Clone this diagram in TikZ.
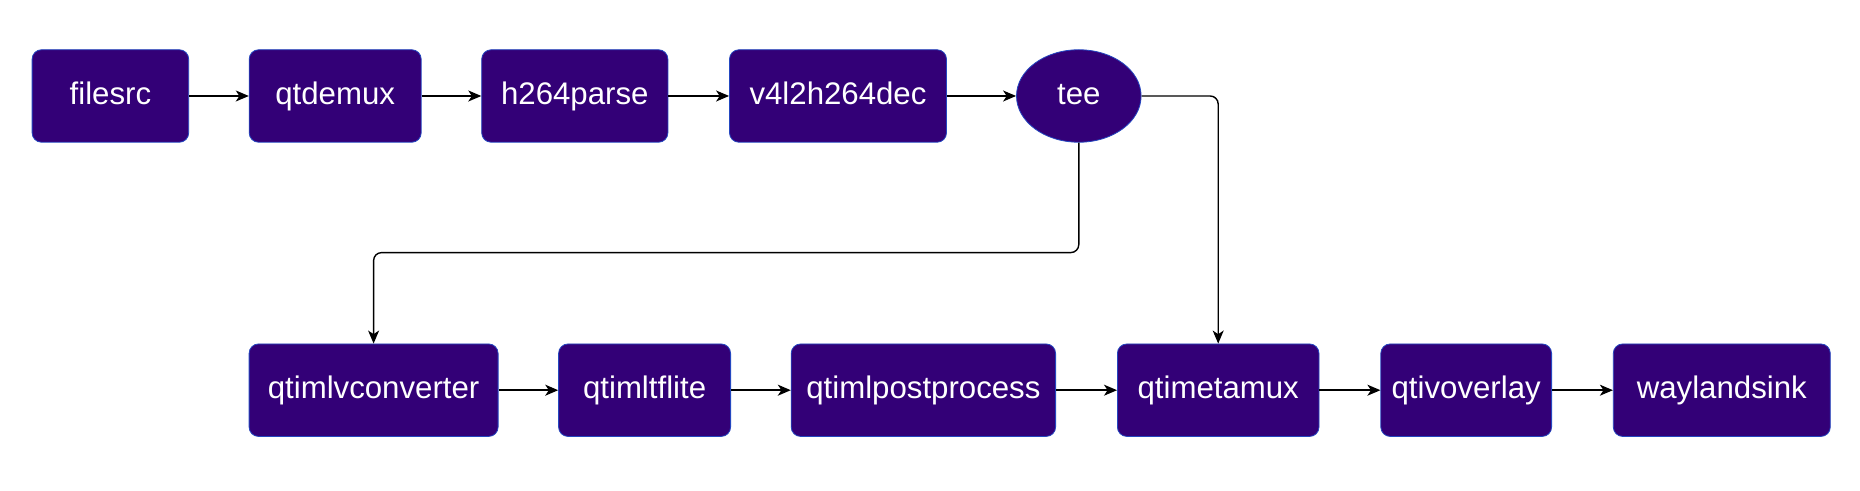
\documentclass[tikz,border=0pt]{standalone}
\usepackage{fontspec}
\setmainfont{Liberation Sans}
\usetikzlibrary{arrows.meta,shapes.geometric}
\definecolor{boxfill}{HTML}{330077}
\definecolor{boxline}{HTML}{2447C0}
\tikzset{
	% pipeline elements: rounded boxes and the ellipse of the tee
	block node/.style={rectangle,rounded corners=4.7pt,draw=boxline,fill=boxfill,
	  text=white,minimum height=46.25pt,inner sep=0pt,text height=0.9em,text depth=0.04em,
	  font=\fontsize{15.6}{18}\selectfont},
	tee node/.style={ellipse,draw=boxline,fill=boxfill,text=white,inner sep=0pt,
	  minimum height=46.25pt,minimum width=62.3pt,text height=0.9em,text depth=0.04em,
	  font=\fontsize{15.6}{18}\selectfont},
	link/.style={-{Stealth[length=6.5pt,width=5.5pt,inset=1.8pt]},line width=0.7pt,rounded corners=4pt}
}
\begin{document}
\begin{tikzpicture}[x=1pt,y=-1pt]
  \useasboundingbox (0,0) rectangle (930,245.5);

  \node(filesrc) at (55.2, 48) [block node,minimum width=78.3pt]{filesrc};
  \node(qtdemux) at (167.6, 48) [block node,minimum width=86pt]{qtdemux};
  \node(parse) at (287.4, 48) [block node,minimum width=93.1pt]{h264parse};
  \node(dec) at (419, 48) [block node,minimum width=108.5pt]{v4l2h264dec};
  \node(tee) at (539.4, 48) [tee node]{tee};

  \path[link] (filesrc) edge (qtdemux);
  \path[link] (qtdemux) edge (parse);
  \path[link] (parse) edge (dec);
  \path[link] (dec) edge (tee);

  \node(conv) at (186.8, 195.1) [block node,minimum width=124.5pt]{qtimlvconverter};
  \node(tflite) at (322.3, 195.1) [block node,minimum width=86pt]{qtimltflite};
  \node(post) at (461.7, 195.1) [block node,minimum width=132.2pt]{qtimlpostprocess};
  \node(meta) at (609.1, 195.1) [block node,minimum width=100.8pt]{qtimetamux};
  \node(overlay) at (733.1, 195.1) [block node,minimum width=85.4pt]{qtivoverlay};
  \node(sink) at (860.9, 195.1) [block node,minimum width=108.5pt]{waylandsink};

  \path[link] (conv) edge (tflite);
  \path[link] (tflite) edge (post);
  \path[link] (post) edge (meta);
  \path[link] (meta) edge (overlay);
  \path[link] (overlay) edge (sink);

  %% the two branches out of the tee
  \coordinate(split) at (539.4, 126.3);
  \draw[link] (tee.south) -- (split) -| (conv.north);
  \draw[link] (tee.east) -| (meta.north);

\end{tikzpicture}
\end{document}
